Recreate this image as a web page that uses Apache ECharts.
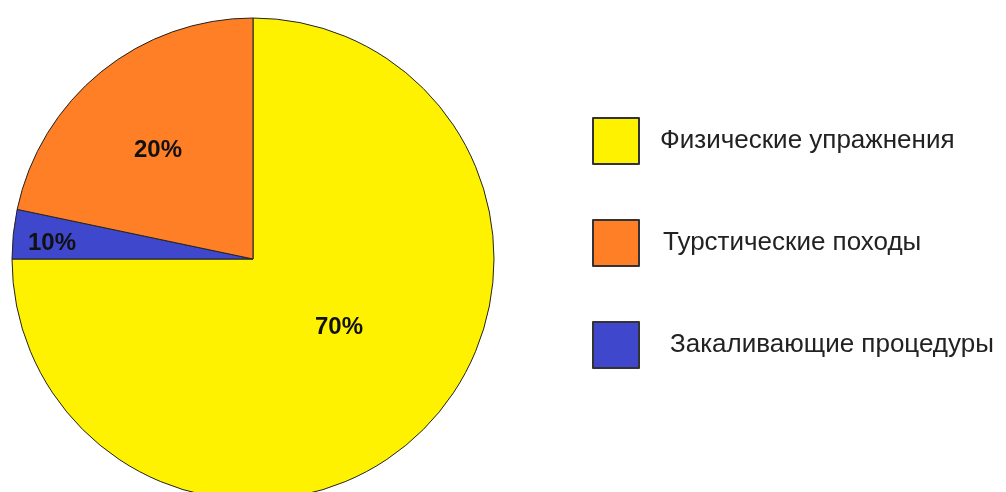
<!DOCTYPE html>
<html>
<head>
<meta charset="utf-8">
<script src="https://cdn.jsdelivr.net/npm/echarts@6/dist/echarts.min.js"></script>
<style>
html,body{margin:0;padding:0;background:#fff;}
#chart{width:1006px;height:492px;}
</style>
</head>
<body>
<div id="chart"></div>
<script>
// Categories in legend order
const categories = ['Физические упражнения', 'Турстические походы', 'Закаливающие процедуры'];
// Printed labels on the slices
const labelTexts = ['70%', '20%', '10%'];
// Slice shares as drawn in the picture (angular share, %)
const sliceValues = [75, 21.7, 3.3];
const colors = ['#FFF200', '#FF7F27', '#3F48CC'];

// drawing order clockwise from 12 o'clock: yellow, blue, orange
const drawOrder = [0, 2, 1];
const labelPos = { 0: [339, 327], 1: [158, 150], 2: [52, 243] };

const chart = echarts.init(document.getElementById('chart'), null, { renderer: 'canvas' });
const seriesData = drawOrder.map(i => ({
  name: categories[i],
  value: sliceValues[i],
  label: { formatter: labelTexts[i] },
  itemStyle: { color: colors[i] }
}));

chart.setOption({
  animation: false,
  legend: {
    orient: 'vertical',
    left: 587,
    top: 112,
    itemWidth: 46,
    itemHeight: 46,
    itemGap: 54,
    icon: 'rect',
    selectedMode: false,
    itemStyle: { borderColor: '#333', borderWidth: 2 },
    data: categories.map((c, i) => ({
      name: c,
      textStyle: { padding: [0, 0, 0, [16, 19, 26][i]] }
    })),
    textStyle: {
      fontFamily: 'Liberation Sans, Arial, sans-serif',
      fontSize: 26,
      color: '#222'
    }
  },
  series: [{
    type: 'pie',
    center: [253, 259],
    radius: 241,
    startAngle: 90,
    clockwise: true,
    avoidLabelOverlap: false,
    itemStyle: { borderColor: '#222', borderWidth: 1 },
    label: {
      show: true,
      position: 'inside',
      fontFamily: 'Liberation Sans, Arial, sans-serif',
      fontWeight: 'bold',
      fontSize: 24,
      color: '#111'
    },
    labelLine: { show: false },
    emphasis: { disabled: true },
    labelLayout: function (params) {
      const p = labelPos[drawOrder[params.dataIndex]];
      return { x: p[0], y: p[1], align: 'center', verticalAlign: 'middle' };
    },
    data: seriesData
  }]
});
</script>
</body>
</html>
